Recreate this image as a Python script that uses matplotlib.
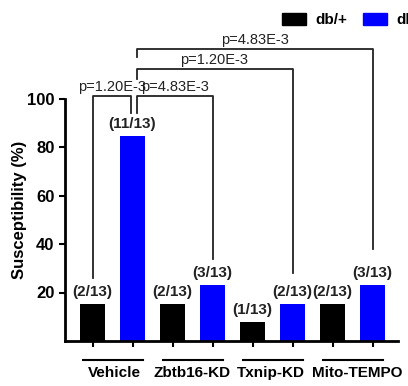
import numpy as np
import matplotlib.pyplot as plt
from matplotlib.patches import Patch

plt.rcParams['font.family'] = ['Liberation Sans', 'DejaVu Sans']

groups = ['Vehicle', 'Zbtb16-KD', 'Txnip-KD', 'Mito-TEMPO']
series = ['db/+', 'db/db']
colors = ['black', '#0000ff']
counts = [[2, 11], [2, 3], [1, 2], [2, 3]]
totals = [[13, 13], [13, 13], [13, 13], [13, 13]]
p_labels = ['p=1.20E-3', 'p=4.83E-3', 'p=1.20E-3', 'p=4.83E-3']
# bracket: (left bar, right bar, top y, left leg bottom, right leg bottom)
brackets = [(0, 1, 101, 26, 94), (1, 3, 101, 94, 34), (1, 5, 112, 108, 28), (1, 7, 120.5, 117, 38)]

W, H = 408, 386
fig = plt.figure(figsize=(W / 100, H / 100), dpi=100)
ax_left, ax_right, ax_bottom = 65, 398, 341
ax = fig.add_axes([ax_left / W, 1 - ax_bottom / H, (ax_right - ax_left) / W, ax_bottom / H])

pos = np.arange(8)
vals = []
labels = []
for g in range(len(groups)):
    for s in range(2):
        vals.append(100 * counts[g][s] / totals[g][s])
        labels.append(f'({counts[g][s]}/{totals[g][s]})')
bar_colors = [colors[i % 2] for i in range(8)]
ax.bar(pos, vals, width=0.625, color=bar_colors)

for x, v, lab in zip(pos, vals, labels):
    ax.text(x, v + 2, lab, ha='center', va='bottom', fontsize=11, fontweight='bold', color='#222222')

for (a, b, top, la, lb), p in zip(brackets, p_labels):
    xa, xb = a + 0.02, b - 0.05 if b == 1 else b
    if a == 1:
        xa = a + 0.1
    ax.plot([xa, xa, xb, xb], [la, top, top, lb], color='#222222', lw=1.3, clip_on=False)
    ax.text((xa + xb) / 2, top + 0.8, p, ha='center', va='bottom', fontsize=10.5, color='#222222')

ax.set_xlim((ax_left - 92.5) / 40, (ax_right - 92.5) / 40)
ax.set_ylim(0, ax_bottom / 2.425)
ax.spines['top'].set_visible(False)
ax.spines['right'].set_visible(False)
ax.spines['left'].set_bounds(0, 100)
ax.spines['left'].set_linewidth(2)
ax.spines['bottom'].set_linewidth(2)
ax.set_yticks([20, 40, 60, 80, 100])
ax.set_xticks(pos)
ax.set_xticklabels([])
ax.tick_params(axis='both', width=1.5, length=4, labelsize=12)
for t in ax.get_yticklabels():
    t.set_fontweight('bold')
ax.set_ylabel('Susceptibility (%)', fontsize=12, fontweight='bold')
ax.yaxis.set_label_coords(-0.115, (ax_bottom - 210) / ax_bottom)

trans = ax.get_xaxis_transform()
label_shift = [0.04, 0.0, -0.04, 0.11]
for g, name in enumerate(groups):
    x0, x1 = 2 * g - 0.25, 2 * g + 1 + 0.25
    ax.plot([x0, x1], [-0.056, -0.056], color='black', lw=1.5, transform=trans, clip_on=False)
    ax.text((x0 + x1) / 2 + label_shift[g], -0.095, name, transform=trans, ha='center', va='center',
            fontsize=11, fontweight='bold')

handles = [Patch(color=c) for c in colors]
fig.legend(handles, series, loc='upper left', bbox_to_anchor=(282 / W, 1 - 13 / H), ncol=2,
           frameon=False, prop={'weight': 'bold', 'size': 11}, handlelength=1.6, handleheight=0.8,
           columnspacing=1.0, handletextpad=0.6, borderaxespad=0, borderpad=0)

fig.savefig('out.png', dpi=100)
